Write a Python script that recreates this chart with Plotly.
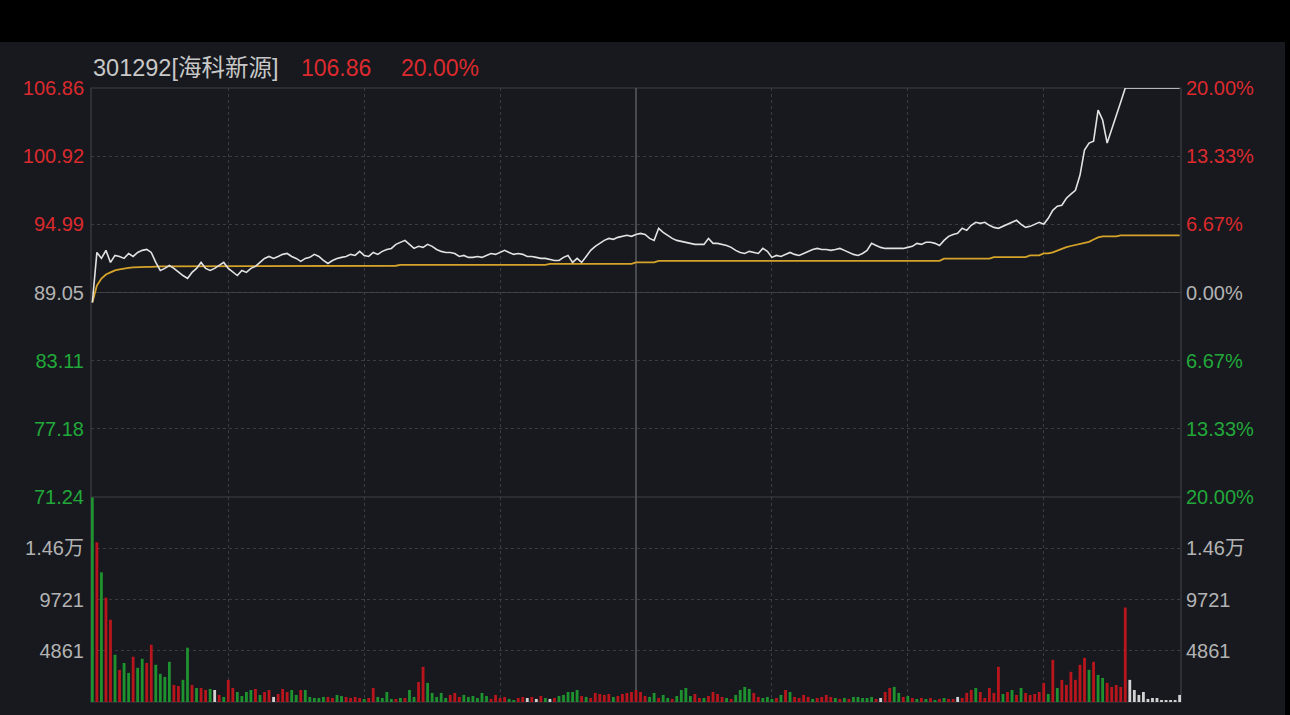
import plotly.graph_objects as go

# ---------------- data ----------------
stock_code = "301292"
stock_name = "海科新源"
last_price_text = "106.86"
last_pct_text = "20.00%"
prev_close = 89.05

price_ticks = [106.86, 100.92, 94.99, 89.05, 83.11, 77.18, 71.24]
price_tick_text = ["106.86", "100.92", "94.99", "89.05", "83.11", "77.18", "71.24"]
pct_tick_text = ["20.00%", "13.33%", "6.67%", "0.00%", "6.67%", "13.33%", "20.00%"]
tick_side = ["up", "up", "up", "flat", "down", "down", "down"]

vol_ticks = [4861, 9721, 14582]
vol_tick_text = ["4861", "9721", "1.46万"]
vol_top = 19444

time_grid = [30, 60, 90, 150, 180, 210]
midday = 120

price = [
    88.18, 92.54, 92.02, 92.72, 91.67, 92.28, 92.19, 92.02, 92.45, 92.19,
    92.54, 92.72, 92.80, 92.54, 91.67, 90.97, 91.15, 91.41, 91.15, 90.80,
    90.53, 90.27, 90.80, 91.15, 91.67, 91.15, 90.97, 91.15, 91.41, 91.67,
    91.15, 90.80, 90.53, 90.97, 90.80, 91.15, 91.32, 91.67, 92.02, 92.19,
    92.02, 92.19, 92.37, 92.45, 92.19, 92.02, 91.76, 92.02, 92.11, 92.37,
    92.19, 91.84, 91.58, 91.84, 92.02, 92.11, 92.19, 92.37, 92.28, 92.63,
    92.28, 92.19, 92.54, 92.37, 92.63, 92.80, 92.89, 93.24, 93.42, 93.59,
    93.24, 92.89, 93.07, 92.98, 93.24, 93.07, 92.80, 92.63, 92.54, 92.54,
    92.45, 92.19, 92.28, 92.11, 92.11, 92.19, 92.11, 92.28, 92.45, 92.37,
    92.54, 92.72, 92.54, 92.37, 92.45, 92.37, 92.19, 92.19, 92.11, 92.02,
    92.02, 91.93, 91.84, 91.84, 92.11, 92.28, 91.67, 92.02, 91.67, 92.19,
    92.72, 93.07, 93.33, 93.59, 93.76, 93.68, 93.85, 93.94, 94.03, 93.94,
    94.11, 94.20, 94.11, 93.76, 93.59, 94.64, 94.29, 94.03, 93.76, 93.59,
    93.50, 93.42, 93.33, 93.24, 93.24, 93.24, 93.76, 93.33, 93.33, 93.24,
    93.15, 92.98, 92.72, 92.54, 92.45, 92.63, 92.54, 92.45, 92.89, 92.63,
    92.11, 92.28, 92.19, 92.37, 92.54, 92.37, 92.28, 92.45, 92.63, 92.80,
    92.89, 92.80, 92.80, 92.72, 92.80, 92.89, 92.72, 92.54, 92.37, 92.28,
    92.45, 92.72, 93.33, 93.15, 92.98, 92.89, 92.89, 92.89, 92.89, 92.89,
    92.98, 93.07, 93.33, 93.24, 93.42, 93.42, 93.33, 93.15, 93.59, 93.94,
    94.11, 94.20, 94.64, 94.46, 94.90, 95.16, 95.07, 95.16, 94.90, 94.72,
    94.64, 94.81, 94.99, 95.16, 95.34, 94.99, 94.72, 94.81, 94.99, 95.16,
    94.99, 95.51, 96.21, 96.56, 96.65, 97.26, 97.61, 97.95, 99.26, 101.45,
    102.06, 102.23, 104.94, 104.07, 102.06, 103.19, 104.33, 105.64, 106.86, 106.86,
    106.86, 106.86, 106.86, 106.86, 106.86, 106.86, 106.86, 106.86, 106.86, 106.86,
    106.86,
]

avg_price = [
    88.18, 89.66, 90.27, 90.62, 90.80, 90.97, 91.06, 91.15, 91.20, 91.23,
    91.26, 91.28, 91.28, 91.28, 91.32, 91.32, 91.32, 91.32, 91.32, 91.32,
    91.32, 91.32, 91.32, 91.32, 91.32, 91.32, 91.32, 91.32, 91.32, 91.32,
    91.32, 91.32, 91.32, 91.32, 91.32, 91.32, 91.32, 91.32, 91.32, 91.32,
    91.32, 91.38, 91.38, 91.38, 91.38, 91.38, 91.38, 91.38, 91.38, 91.38,
    91.38, 91.38, 91.38, 91.38, 91.38, 91.38, 91.38, 91.38, 91.38, 91.38,
    91.38, 91.38, 91.38, 91.38, 91.38, 91.38, 91.38, 91.38, 91.45, 91.45,
    91.45, 91.45, 91.45, 91.45, 91.45, 91.45, 91.45, 91.45, 91.45, 91.45,
    91.45, 91.45, 91.45, 91.45, 91.45, 91.45, 91.45, 91.45, 91.45, 91.45,
    91.45, 91.45, 91.45, 91.45, 91.45, 91.45, 91.45, 91.45, 91.45, 91.45,
    91.45, 91.55, 91.55, 91.55, 91.55, 91.55, 91.55, 91.55, 91.55, 91.55,
    91.55, 91.55, 91.55, 91.55, 91.55, 91.55, 91.55, 91.55, 91.55, 91.55,
    91.67, 91.67, 91.67, 91.67, 91.67, 91.80, 91.80, 91.80, 91.80, 91.80,
    91.80, 91.80, 91.80, 91.80, 91.80, 91.80, 91.80, 91.80, 91.80, 91.80,
    91.80, 91.80, 91.80, 91.80, 91.80, 91.80, 91.80, 91.80, 91.80, 91.80,
    91.80, 91.80, 91.80, 91.80, 91.80, 91.80, 91.80, 91.80, 91.80, 91.80,
    91.80, 91.80, 91.80, 91.80, 91.80, 91.80, 91.80, 91.80, 91.80, 91.80,
    91.80, 91.80, 91.80, 91.80, 91.80, 91.80, 91.80, 91.80, 91.80, 91.80,
    91.80, 91.80, 91.80, 91.80, 91.80, 91.80, 91.80, 91.80, 92.00, 92.00,
    92.00, 92.00, 92.00, 92.00, 92.00, 92.00, 92.00, 92.00, 92.00, 92.13,
    92.13, 92.13, 92.13, 92.13, 92.13, 92.13, 92.13, 92.28, 92.28, 92.28,
    92.45, 92.45, 92.55, 92.72, 92.89, 93.00, 93.10, 93.20, 93.30, 93.38,
    93.46, 93.66, 93.85, 93.94, 93.94, 93.94, 93.94, 94.03, 94.03, 94.03,
    94.03, 94.03, 94.03, 94.03, 94.03, 94.03, 94.03, 94.03, 94.03, 94.03,
    94.03,
]

volume = [
    19400, 15150, 12300, 9900, 7800, 4480, 3050, 3700, 2760, 4290,
    3240, 4100, 3700, 5430, 3530, 2670, 2380, 3810, 1620, 1520,
    2100, 5150, 1620, 1330, 1330, 1140, 1240, 1140, 670, 480,
    2100, 1330, 950, 570, 950, 1140, 1240, 670, 950, 1140,
    480, 760, 1240, 950, 1140, 670, 1140, 1140, 480, 380,
    380, 480, 480, 380, 670, 570, 480, 380, 480, 380,
    290, 380, 1330, 480, 380, 950, 290, 290, 380, 380,
    1140, 480, 1900, 3340, 1810, 860, 480, 860, 380, 670,
    860, 480, 670, 480, 570, 380, 860, 570, 290, 670,
    380, 480, 290, 190, 380, 480, 380, 480, 290, 570,
    380, 290, 380, 570, 670, 950, 950, 1140, 570, 480,
    380, 860, 760, 670, 760, 480, 570, 760, 860, 950,
    1140, 950, 570, 480, 860, 380, 670, 380, 290, 570,
    1140, 1330, 570, 760, 380, 380, 570, 950, 760, 480,
    380, 290, 670, 1140, 1430, 1240, 860, 480, 380, 480,
    290, 380, 670, 1140, 950, 480, 380, 670, 480, 290,
    380, 480, 670, 480, 380, 290, 380, 290, 480, 480,
    380, 380, 480, 290, 380, 950, 1330, 1430, 860, 480,
    570, 380, 290, 380, 290, 380, 190, 290, 380, 290,
    290, 480, 380, 860, 1140, 1330, 950, 380, 1330, 860,
    3340, 760, 950, 1140, 670, 1330, 860, 670, 760, 950,
    1810, 760, 4000, 1330, 2100, 1620, 2860, 2100, 3530, 4190,
    3050, 3810, 2570, 2280, 1810, 1430, 1620, 1430, 8960, 2100,
    1140, 670, 950, 290, 380, 380, 190, 150, 150, 150,
    670,
]

# R = up minute, G = down minute, W = unchanged
vol_dir = (
    "GRGRRGRGGR" "GGRRGGGGRR" "GGRGRRGWRG" "RRGGGGRGRR" "WRRRGGRGGG"
    "GGRRGGRRRR" "GRRGGGGRGR" "GGRRGGGGGR" "RRGGGGGGRR" "RRGGRRWRWR"
    "GWRGGGGGRG" "RRRRRGRRRR" "RRRGGRGGRG" "GGGRRGRRRR" "GRGGGGRRGG"
    "GRGRGRRRRG" "RRRRGRGRGG" "GGGRWRRGGR" "GRGRGRGRGR" "RWRRRGRRRR"
    "RGRGRGRRRR" "RGRGRRRRRR" "GRGGRRRRRW" "WWWWWWWWWW" "W"
)

minutes = list(range(len(price)))
assert len(price) == len(avg_price) == len(volume) == len(vol_dir) == 241

# ---------------- styling ----------------
W, H = 1290, 715
L, R, T, B = 91, 1181, 88, 702
SPLIT = 497
PANEL = "#17191e"
RED = "#dc2a2e"
GREEN = "#22a83a"
GRAY = "#b3b3b3"
GRID = "#3a3c42"
BORDER = "#3e4046"
FONT = "Liberation Sans, Arial, Noto Sans CJK SC, sans-serif"

side_color = {"up": RED, "flat": GRAY, "down": GREEN}
bar_color_map = {"R": "#b8161c", "G": "#1f9230", "W": "#d2d2d2"}
bar_colors = [bar_color_map[c] for c in vol_dir]


def px_x(px):
    return (px - L) / (R - L)


def px_y(py):
    return (B - py) / (B - T)


split_frac = px_y(SPLIT)

left_price_text = [f"<span style='color:{side_color[s]}'>{t}</span>"
                   for t, s in zip(price_tick_text, tick_side)]
right_price_text = [f"<span style='color:{side_color[s]}'>{t}</span>"
                    for t, s in zip(pct_tick_text, tick_side)]

fig = go.Figure()
fig.add_trace(go.Bar(x=minutes, y=volume, marker=dict(color=bar_colors, line=dict(width=0)),
                     width=0.62, xaxis="x", yaxis="y2", hoverinfo="skip"))
fig.add_trace(go.Scatter(x=minutes, y=avg_price, mode="lines",
                         line=dict(color="#d6a32a", width=1.8), xaxis="x", yaxis="y"))
fig.add_trace(go.Scatter(x=minutes, y=price, mode="lines",
                         line=dict(color="#e2e2e2", width=1.6), xaxis="x", yaxis="y"))
# carriers for the right-hand axes
fig.add_trace(go.Scatter(x=minutes[:1], y=[prev_close], mode="markers", marker=dict(opacity=0),
                         xaxis="x", yaxis="y3", hoverinfo="skip"))
fig.add_trace(go.Scatter(x=minutes[:1], y=[0], mode="markers", marker=dict(opacity=0),
                         xaxis="x", yaxis="y4", hoverinfo="skip"))

axis_font = dict(family=FONT, size=20, color=GRAY)

fig.update_layout(
    width=W, height=H,
    margin=dict(l=L, r=W - R, t=T, b=H - B, pad=0, autoexpand=False),
    paper_bgcolor=PANEL, plot_bgcolor=PANEL,
    showlegend=False, hovermode=False,
    xaxis=dict(range=[-0.3, 240.3], anchor="y2", showticklabels=False, ticks="",
               tickvals=time_grid, showgrid=True, gridcolor=GRID, griddash="dot", gridwidth=1,
               zeroline=False, showline=False, automargin=False),
    yaxis=dict(domain=[split_frac, 1], range=[price_ticks[-1], price_ticks[0]],
               tickvals=price_ticks, ticktext=left_price_text, tickfont=axis_font,
               ticks="", ticklabelstandoff=6, showgrid=True, gridcolor=GRID, griddash="dot",
               zeroline=False, showline=False, anchor="x", automargin=False),
    yaxis3=dict(overlaying="y", side="right", range=[price_ticks[-1], price_ticks[0]],
                tickvals=price_ticks, ticktext=right_price_text, tickfont=axis_font,
                ticks="", ticklabelstandoff=4, showgrid=False, zeroline=False, showline=False,
                anchor="x", automargin=False),
    yaxis2=dict(domain=[0, split_frac], range=[0, vol_top], tickvals=vol_ticks,
                ticktext=vol_tick_text, tickfont=axis_font, ticks="", ticklabelstandoff=6,
                showgrid=True, gridcolor=GRID, griddash="dot", zeroline=False, showline=False,
                anchor="x", automargin=False),
    yaxis4=dict(overlaying="y2", side="right", range=[0, vol_top], tickvals=vol_ticks,
                ticktext=vol_tick_text, tickfont=axis_font, ticks="", ticklabelstandoff=4,
                showgrid=False, zeroline=False, showline=False, anchor="x", automargin=False),
)

shapes = [
    # black frame outside the panel
    dict(type="rect", xref="paper", yref="paper", x0=px_x(-10), x1=px_x(W + 10),
         y0=px_y(42), y1=px_y(-10), fillcolor="#000000", line=dict(width=0), layer="above"),
    dict(type="rect", xref="paper", yref="paper", x0=px_x(1285), x1=px_x(W + 10),
         y0=px_y(H + 10), y1=px_y(-10), fillcolor="#000000", line=dict(width=0), layer="above"),
    # outer border
    dict(type="rect", xref="paper", yref="paper", x0=0, x1=1, y0=0, y1=1,
         line=dict(color=BORDER, width=1.2), layer="below"),
    # panel divider
    dict(type="line", xref="paper", yref="paper", x0=0, x1=1, y0=split_frac, y1=split_frac,
         line=dict(color=BORDER, width=1.2), layer="below"),
    # previous close line
    dict(type="line", xref="paper", yref="y", x0=0, x1=1, y0=prev_close, y1=prev_close,
         line=dict(color="#44464c", width=1.2), layer="below"),
    # midday line
    dict(type="line", xref="x", yref="paper", x0=midday, x1=midday, y0=0, y1=1,
         line=dict(color="#55575c", width=1.6), layer="below"),
]
fig.update_layout(shapes=shapes)

title_y = px_y(68)
title_font = FONT
fig.add_annotation(xref="paper", yref="paper", x=px_x(91), y=title_y, xanchor="left", yanchor="middle",
                   text=f"{stock_code}[{stock_name}]", showarrow=False,
                   font=dict(family=title_font, size=23.5, color="#c8c8c8"))
fig.add_annotation(xref="paper", yref="paper", x=px_x(299), y=title_y, xanchor="left", yanchor="middle",
                   text=last_price_text, showarrow=False,
                   font=dict(family=title_font, size=23, color=RED))
fig.add_annotation(xref="paper", yref="paper", x=px_x(399), y=title_y, xanchor="left", yanchor="middle",
                   text=last_pct_text, showarrow=False,
                   font=dict(family=title_font, size=23, color=RED))

page_fix = ("document.body.style.margin='0';"
            "document.body.style.background='#000000';"
            "document.body.style.overflow='hidden';")
fig.write_html("out.html", post_script=page_fix, config={"displayModeBar": False})
